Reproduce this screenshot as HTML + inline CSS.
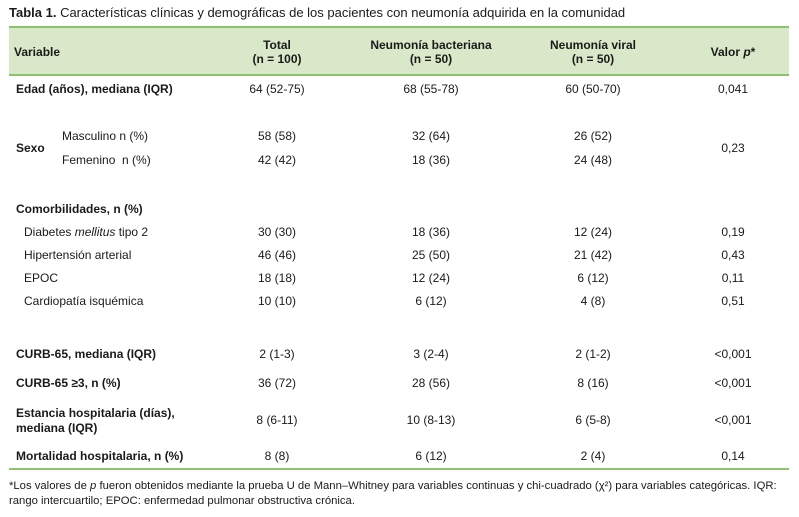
<!DOCTYPE html>
<html><head><meta charset="utf-8"><style>
body{margin:0;width:799px;height:517px;background:#fff;position:relative;overflow:hidden;font-family:"Liberation Sans",sans-serif;color:#1a1a1a;font-size:12px}
.t{position:absolute;white-space:nowrap;line-height:14px}
.c{transform:translateX(-50%);text-align:center}
.b{font-weight:bold}
</style></head><body>
<div class="t" style="left:9px;top:5px;font-size:13px;line-height:16px"><b>Tabla 1.</b> Características clínicas y demográficas de los pacientes con neumonía adquirida en la comunidad</div>
<div style="position:absolute;left:9px;top:26px;width:780px;height:50px;background:#d9e8c9;border-top:2px solid #8cc36c;border-bottom:2px solid #8cc36c;box-sizing:border-box"></div>
<div class="t b" style="left:14px;top:45px">Variable</div>
<div class="t b c" style="left:277px;top:38px">Total<br>(n = 100)</div>
<div class="t b c" style="left:431px;top:38px">Neumonía bacteriana<br>(n = 50)</div>
<div class="t b c" style="left:593px;top:38px">Neumonía viral<br>(n = 50)</div>
<div class="t b c" style="left:733px;top:45px">Valor <i>p</i>*</div>

<div class="t b" style="left:16px;top:82px">Edad (años), mediana (IQR)</div>
<div class="t c" style="left:277px;top:82px">64 (52-75)</div>
<div class="t c" style="left:431px;top:82px">68 (55-78)</div>
<div class="t c" style="left:593px;top:82px">60 (50-70)</div>
<div class="t c" style="left:733px;top:82px">0,041</div>

<div class="t b" style="left:16px;top:141px">Sexo</div>
<div class="t" style="left:62px;top:129px">Masculino n (%)</div>
<div class="t c" style="left:277px;top:129px">58 (58)</div>
<div class="t c" style="left:431px;top:129px">32 (64)</div>
<div class="t c" style="left:593px;top:129px">26 (52)</div>
<div class="t" style="left:62px;top:153px">Femenino&nbsp; n (%)</div>
<div class="t c" style="left:277px;top:153px">42 (42)</div>
<div class="t c" style="left:431px;top:153px">18 (36)</div>
<div class="t c" style="left:593px;top:153px">24 (48)</div>
<div class="t c" style="left:733px;top:141px">0,23</div>

<div class="t b" style="left:16px;top:202px">Comorbilidades, n (%)</div>
<div class="t" style="left:24px;top:225px">Diabetes <i>mellitus</i> tipo 2</div>
<div class="t c" style="left:277px;top:225px">30 (30)</div>
<div class="t c" style="left:431px;top:225px">18 (36)</div>
<div class="t c" style="left:593px;top:225px">12 (24)</div>
<div class="t c" style="left:733px;top:225px">0,19</div>
<div class="t" style="left:24px;top:248px">Hipertensión arterial</div>
<div class="t c" style="left:277px;top:248px">46 (46)</div>
<div class="t c" style="left:431px;top:248px">25 (50)</div>
<div class="t c" style="left:593px;top:248px">21 (42)</div>
<div class="t c" style="left:733px;top:248px">0,43</div>
<div class="t" style="left:24px;top:271px">EPOC</div>
<div class="t c" style="left:277px;top:271px">18 (18)</div>
<div class="t c" style="left:431px;top:271px">12 (24)</div>
<div class="t c" style="left:593px;top:271px">6 (12)</div>
<div class="t c" style="left:733px;top:271px">0,11</div>
<div class="t" style="left:24px;top:294px">Cardiopatía isquémica</div>
<div class="t c" style="left:277px;top:294px">10 (10)</div>
<div class="t c" style="left:431px;top:294px">6 (12)</div>
<div class="t c" style="left:593px;top:294px">4 (8)</div>
<div class="t c" style="left:733px;top:294px">0,51</div>

<div class="t b" style="left:16px;top:347px">CURB-65, mediana (IQR)</div>
<div class="t c" style="left:277px;top:347px">2 (1-3)</div>
<div class="t c" style="left:431px;top:347px">3 (2-4)</div>
<div class="t c" style="left:593px;top:347px">2 (1-2)</div>
<div class="t c" style="left:733px;top:347px">&lt;0,001</div>

<div class="t b" style="left:16px;top:376px">CURB-65 ≥3, n (%)</div>
<div class="t c" style="left:277px;top:376px">36 (72)</div>
<div class="t c" style="left:431px;top:376px">28 (56)</div>
<div class="t c" style="left:593px;top:376px">8 (16)</div>
<div class="t c" style="left:733px;top:376px">&lt;0,001</div>

<div class="t b" style="left:16px;top:406px;line-height:15px">Estancia hospitalaria (días),<br>mediana (IQR)</div>
<div class="t c" style="left:277px;top:413px">8 (6-11)</div>
<div class="t c" style="left:431px;top:413px">10 (8-13)</div>
<div class="t c" style="left:593px;top:413px">6 (5-8)</div>
<div class="t c" style="left:733px;top:413px">&lt;0,001</div>

<div class="t b" style="left:16px;top:449px">Mortalidad hospitalaria, n (%)</div>
<div class="t c" style="left:277px;top:449px">8 (8)</div>
<div class="t c" style="left:431px;top:449px">6 (12)</div>
<div class="t c" style="left:593px;top:449px">2 (4)</div>
<div class="t c" style="left:733px;top:449px">0,14</div>

<div style="position:absolute;left:9px;top:468px;width:780px;height:2px;background:#8cc36c"></div>
<div class="t" style="left:9px;top:479px;font-size:11.3px;line-height:14.5px;white-space:normal;width:782px">*Los valores de <i>p</i> fueron obtenidos mediante la prueba U de Mann–Whitney para variables continuas y chi-cuadrado (χ²) para variables categóricas. IQR: rango intercuartilo; EPOC: enfermedad pulmonar obstructiva crónica.</div>
</body></html>
